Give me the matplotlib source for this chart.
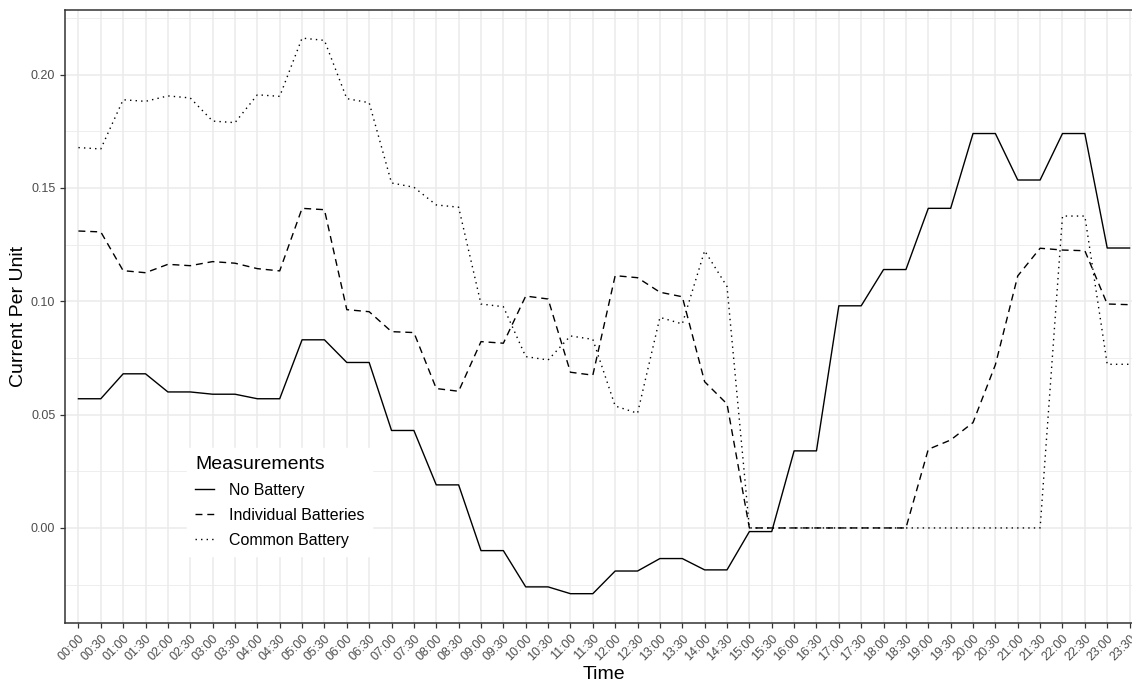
import matplotlib
matplotlib.use("Agg")
import matplotlib.pyplot as plt
from matplotlib.ticker import MultipleLocator

plt.rcParams['font.family'] = ['Liberation Sans', 'DejaVu Sans']

# half-hour time slots
times = ["%02d:%02d" % (h, m) for h in range(24) for m in (0, 30)]

no_battery = [
    0.057, 0.057, 0.068, 0.068, 0.060, 0.060, 0.059, 0.059,
    0.057, 0.057, 0.083, 0.083, 0.073, 0.073, 0.043, 0.043,
    0.019, 0.019, -0.010, -0.010, -0.026, -0.026, -0.029, -0.029,
    -0.019, -0.019, -0.0135, -0.0135, -0.0185, -0.0185, -0.0016, -0.0016,
    0.034, 0.034, 0.098, 0.098, 0.114, 0.114, 0.141, 0.141,
    0.174, 0.174, 0.1535, 0.1535, 0.174, 0.174, 0.1235, 0.1235,
]

individual_batteries = [
    0.131, 0.1306, 0.1135, 0.1126, 0.1163, 0.1157, 0.1175, 0.1168,
    0.1144, 0.1134, 0.141, 0.1404, 0.0963, 0.0954, 0.0866, 0.0862,
    0.0615, 0.0603, 0.0822, 0.0815, 0.1023, 0.101, 0.0687, 0.0674,
    0.1113, 0.1104, 0.104, 0.102, 0.0645, 0.0547, 0.0, 0.0,
    0.0, 0.0, 0.0, 0.0, 0.0, 0.0, 0.0347, 0.0388,
    0.0465, 0.072, 0.1112, 0.1234, 0.1226, 0.1223, 0.0988, 0.0985,
]

common_battery = [
    0.1678, 0.1672, 0.1889, 0.1882, 0.1906, 0.1897, 0.1795, 0.1788,
    0.1911, 0.1904, 0.2161, 0.2151, 0.1894, 0.1876, 0.1522, 0.1503,
    0.1425, 0.1415, 0.0988, 0.0976, 0.0756, 0.0741, 0.0847, 0.0832,
    0.0538, 0.0506, 0.0929, 0.090, 0.1223, 0.1065, 0.0, 0.0,
    0.0, 0.0, 0.0, 0.0, 0.0, 0.0, 0.0, 0.0,
    0.0, 0.0, 0.0, 0.0, 0.1376, 0.1376, 0.0722, 0.0722,
]

W, H = 1132, 684
fig = plt.figure(figsize=(W / 100, H / 100), dpi=100)
ax = fig.add_axes([65 / W, 1 - 622.7 / H, (1143 - 65) / W, (622.7 - 10) / H])

ax.plot(times, no_battery, color="black", lw=1.0, ls="-", label="No Battery")
ax.plot(times, individual_batteries, color="black", lw=1.0,
        ls=(0, (5, 3.5)), label="Individual Batteries")
ax.plot(times, common_battery, color="black", lw=1.0,
        ls=(0, (1, 3)), label="Common Battery")

ax.set_xlim(-0.6, len(times) - 1 + 0.6)
ax.set_ylim(-0.0418, 0.2285)

# theme_bw look
ax.yaxis.set_major_locator(MultipleLocator(0.05))
ax.yaxis.set_minor_locator(MultipleLocator(0.025))
ax.set_yticks([0.0, 0.05, 0.10, 0.15, 0.20])
ax.set_yticklabels(["0.00", "0.05", "0.10", "0.15", "0.20"])
ax.grid(True, which="major", color="#EBEBEB", lw=1.1)
ax.grid(True, which="minor", axis="y", color="#EBEBEB", lw=0.6)
ax.set_axisbelow(True)
for s in ax.spines.values():
    s.set_color("#333333")
    s.set_linewidth(1.1)

ax.tick_params(axis="both", which="major", length=3.5, width=0.9,
               color="#333333", labelcolor="#4D4D4D", labelsize=9)
ax.tick_params(axis="y", which="minor", length=0)
plt.setp(ax.get_xticklabels(), rotation=45, ha="right", va="top",
         rotation_mode="anchor")

ax.set_xlabel("Time", fontsize=14)
ax.set_ylabel("Current Per Unit", fontsize=14)
ax.xaxis.set_label_coords(0.5, -(666 - 622.7) / 612.7)
ax.yaxis.set_label_coords(-(65 - 27) / 1078, 0.5)

leg = ax.legend(title="Measurements", loc="upper left",
                bbox_to_anchor=(187 / W, 1 - 448 / H),
                bbox_transform=fig.transFigure, borderaxespad=0,
                fontsize=11.5, title_fontsize=14, frameon=True,
                fancybox=False, edgecolor="white", facecolor="white",
                framealpha=1, handlelength=1.2, handletextpad=0.9,
                labelspacing=0.62, borderpad=0.5, alignment="left")

fig.savefig("out.png", dpi=100)
